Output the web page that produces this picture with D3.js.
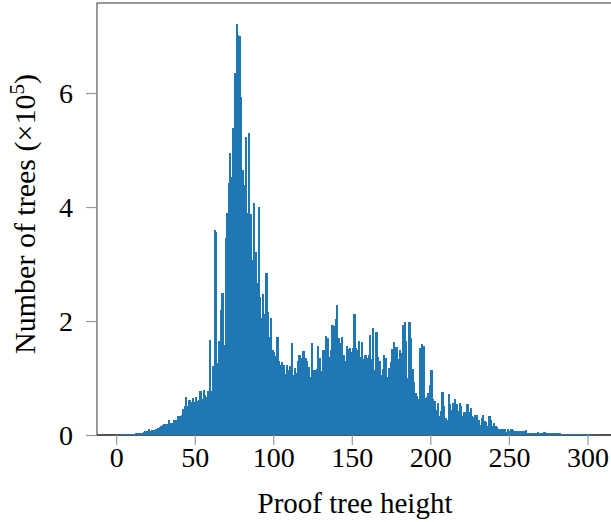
<!DOCTYPE html>
<html lang="en">
<head>
  <meta charset="UTF-8">
  <title>Proof tree height histogram</title>
  <script src="https://d3js.org/d3.v7.min.js"></script>
  <style>
    body { margin: 0; background: #fff; }
    svg text { font-family: "Liberation Serif", "Times New Roman", serif; fill: #000; }
    .tick line { stroke: #999; stroke-width: 1.2; }
    .tick text { font-size: 28px; }
    .axis-label { font-size: 29px; }
  </style>
</head>
<body>
<svg id="chart"></svg>
<script>
// number of trees (x 10^5) for each proof tree height, starting at height 0
const counts = [
  0, 0, 0, 0.004, 0.004, 0.004, 0.004, 0.004, 0.004, 0.004,
  0.02, 0.02, 0.03, 0.03, 0.03, 0.03, 0.03, 0.05, 0.06, 0.06,
  0.1, 0.07, 0.08, 0.08, 0.08, 0.1, 0.12, 0.13, 0.16, 0.17,
  0.19, 0.19, 0.19, 0.25, 0.2, 0.21, 0.25, 0.26, 0.26, 0.32,
  0.32, 0.35, 0.45, 0.51, 0.67, 0.51, 0.61, 0.57, 0.64, 0.57,
  0.67, 0.6, 0.61, 0.76, 0.63, 0.79, 0.7, 0.67, 0.76, 1.67,
  0.76, 1.2, 3.6, 3.55, 1.26, 1.64, 2.19, 2.49, 1.58, 3.45,
  3.89, 4.42, 4.94, 4.53, 5.38, 6.35, 7.21, 7.02, 7.0, 5.93,
  4.65, 4.39, 5.23, 3.89, 5.3, 3.87, 3.07, 4.07, 3.2, 2.67,
  4.0, 2.42, 2.05, 2.46, 2.12, 2.84, 2.16, 1.72, 2.04, 1.49,
  1.45, 1.38, 1.72, 1.29, 1.23, 1.28, 1.22, 1.07, 1.23, 1.14,
  1.2, 1.61, 1.05, 1.17, 1.09, 1.3, 1.4, 1.34, 1.47, 1.47,
  1.34, 1.29, 1.18, 1.02, 1.61, 1.14, 1.13, 1.16, 1.55, 1.35,
  1.12, 1.49, 1.49, 1.73, 1.7, 1.36, 1.49, 1.93, 1.9, 2.03,
  2.28, 1.7, 1.61, 1.72, 1.39, 1.29, 1.56, 1.51, 1.53, 1.45,
  1.53, 2.12, 1.53, 1.49, 1.65, 1.36, 1.62, 1.32, 1.39, 1.35,
  1.4, 1.75, 1.33, 1.87, 1.14, 1.8, 1.37, 1.3, 1.05, 1.15,
  1.39, 1.35, 1.02, 1.17, 1.27, 1.51, 1.62, 1.54, 1.54, 1.33,
  1.48, 1.43, 1.93, 1.97, 1.65, 0.99, 1.97, 1.7, 1.16, 0.92,
  0.73, 0.68, 0.63, 1.53, 1.6, 1.56, 0.64, 0.66, 0.74, 0.88,
  1.14, 0.63, 0.6, 0.44, 0.55, 0.33, 0.42, 0.75, 0.51, 0.3,
  0.25, 0.72, 0.53, 0.44, 0.55, 0.63, 0.54, 0.41, 0.56, 0.5,
  0.33, 0.4, 0.32, 0.53, 0.39, 0.46, 0.33, 0.31, 0.35, 0.35,
  0.25, 0.17, 0.3, 0.35, 0.24, 0.23, 0.16, 0.33, 0.26, 0.16,
  0.2, 0.16, 0.14, 0.1, 0.1, 0.1, 0.1, 0.1, 0.05, 0.1,
  0.07, 0.1, 0.08, 0.07, 0.06, 0.06, 0.06, 0.06, 0.06, 0.06,
  0.08, 0.035, 0.035, 0.035, 0.035, 0.035, 0.035, 0.035, 0.05, 0.035,
  0.035, 0.035, 0.05, 0.03, 0.03, 0.03, 0.03, 0.03, 0.03, 0.03,
  0.03, 0.03, 0.03, 0.01, 0.01, 0.01, 0.01, 0.01, 0.01, 0.01,
  0.01, 0.01, 0.01, 0.01, 0.01, 0.01, 0.01, 0.01, 0.01, 0.01,
  0.01, 0.01, 0.01
];
const xTicks = [0, 50, 100, 150, 200, 250, 300];
const yTicks = [0, 2, 4, 6];
const xTitle = "Proof tree height";
const yTitle = "Number of trees (\u00d710";
const yTitleExp = "5";

const width = 611, height = 522;
const plotLeft = 97, plotTop = 3, plotBottom = 435;

const svg = d3.select("#chart")
  .attr("width", width)
  .attr("height", height);

const x = d3.scaleLinear().domain([-12.2, 315]).range([plotLeft, width]);
const y = d3.scaleLinear().domain([0, 7.58]).range([plotBottom, plotTop]);

const bins = counts.map((v, i) => ({ h: i, v: v }));

// frame (right edge runs off the picture)
svg.append("rect")
  .attr("x", plotLeft)
  .attr("y", plotTop)
  .attr("width", x(330) - plotLeft)
  .attr("height", plotBottom - plotTop)
  .attr("fill", "none")
  .attr("stroke", "#555")
  .attr("stroke-width", 1.2);

svg.append("line")
  .attr("x1", plotLeft).attr("x2", width)
  .attr("y1", plotBottom).attr("y2", plotBottom)
  .attr("stroke", "#111")
  .attr("stroke-width", 1.2);

// bars overlap a little so no seams show between neighbours
svg.append("g")
  .attr("shape-rendering", "crispEdges")
  .selectAll("rect")
  .data(bins)
  .join("rect")
  .attr("x", d => x(d.h))
  .attr("y", d => y(d.v) - 0.3)
  .attr("width", d => x(d.h + 1) - x(d.h) + 0.6)
  .attr("height", d => y(0) - y(d.v) + 0.3)
  .attr("fill", "#1f77b4");

const xAxis = svg.append("g")
  .attr("transform", `translate(0,${plotBottom})`)
  .call(d3.axisBottom(x).tickValues(xTicks).tickSize(10).tickFormat(d3.format("d")));
xAxis.select(".domain").remove();
xAxis.selectAll(".tick text").attr("y", 32).attr("dy", 0);

const yAxis = svg.append("g")
  .attr("transform", `translate(${plotLeft},0)`)
  .call(d3.axisLeft(y).tickValues(yTicks).tickSize(11).tickPadding(13));
yAxis.select(".domain").remove();
yAxis.selectAll(".tick text").attr("dy", "0.33em");

svg.append("text")
  .attr("class", "axis-label")
  .attr("x", 355)
  .attr("y", 513)
  .attr("text-anchor", "middle")
  .text(xTitle);

const yl = svg.append("text")
  .attr("class", "axis-label")
  .attr("transform", "translate(35,214) rotate(-90)")
  .attr("text-anchor", "middle")
  .style("font-size", "30px");
yl.append("tspan").text(yTitle);
yl.append("tspan").attr("dy", -11).style("font-size", "21px").text(yTitleExp);
yl.append("tspan").attr("dy", 11).text(")");
</script>
</body>
</html>
